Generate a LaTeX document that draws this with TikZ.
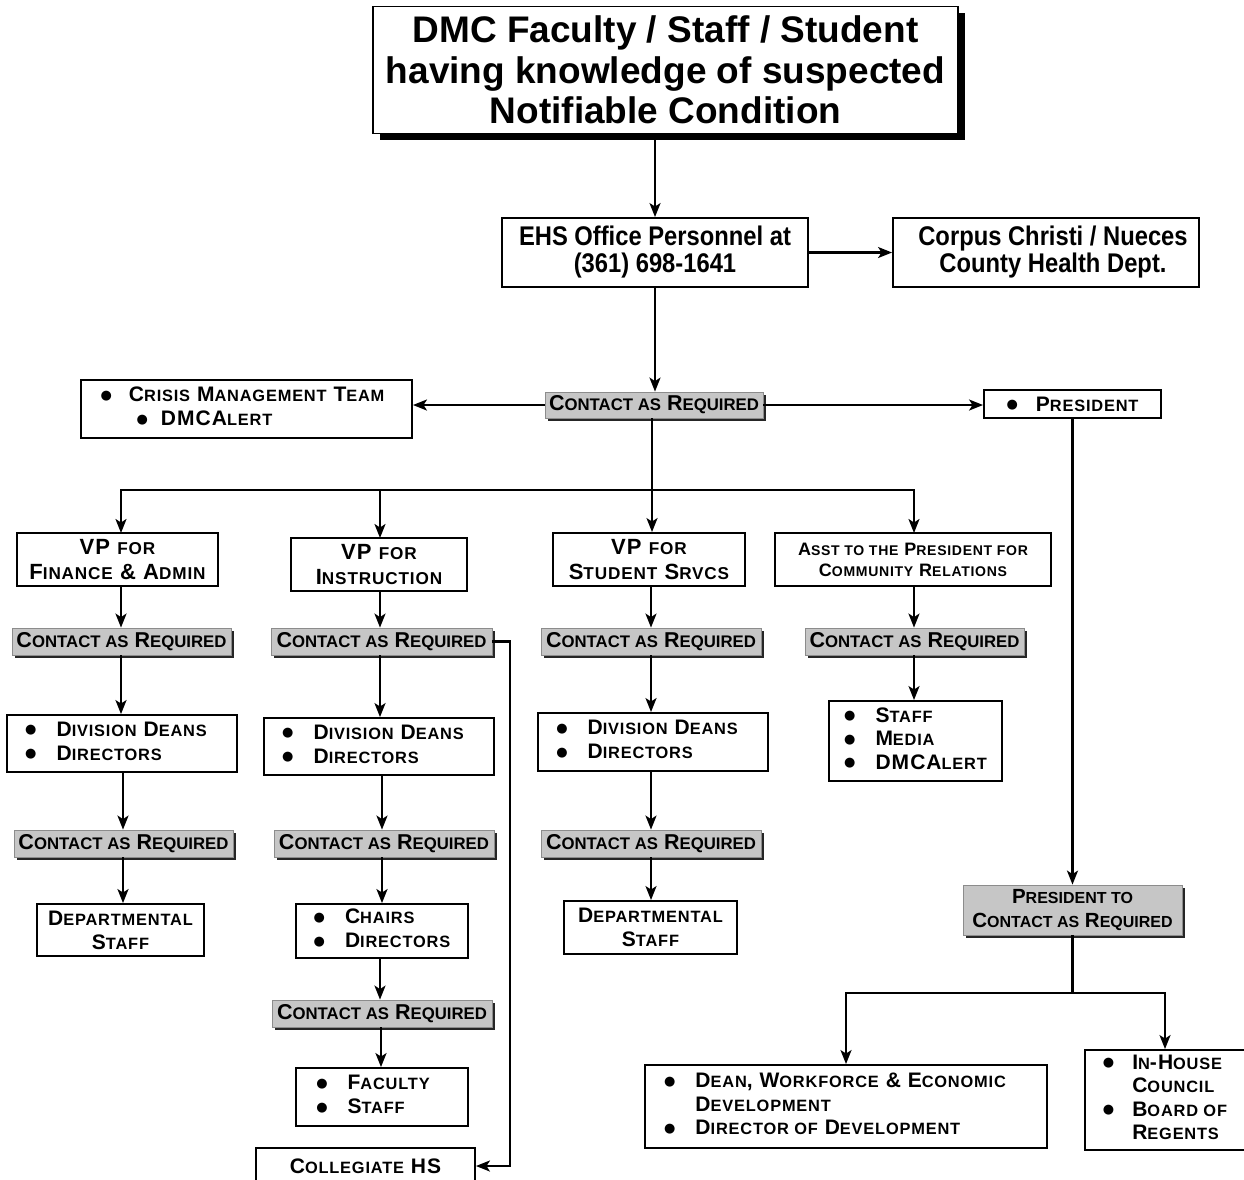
\documentclass[tikz,border=0pt]{standalone}
\usepackage{fontspec}
\setmainfont{Liberation Sans}
\newfontfamily\narrowf[FakeStretch=0.88]{Liberation Sans}
\newfontfamily\trk[LetterSpace=5]{Liberation Sans}
\newfontfamily\dejavu{DejaVu Sans}
\usetikzlibrary{arrows.meta,shadows}
\definecolor{cgray}{RGB}{198,198,198}
\newcommand\lc[1]{\scalebox{0.78}{#1}}
\newcommand\bul{\raisebox{2.5pt}{\dejavu\fontsize{13}{13}\selectfont ●}}
\newcommand\cartext{C\lc{ONTACT AS} R\lc{EQUIRED}}
\begin{document}
\begin{tikzpicture}[x=1pt,y=-1pt,
  box/.style={draw=black, line width=1.9pt, fill=white, inner sep=0pt, align=center,
    font=\trk\bfseries\fontsize{21}{24}\selectfont},
  car/.style={draw=black!45, line width=0.8pt, fill=cgray, inner sep=0pt,
    minimum width=219pt, minimum height=27pt, font=\bfseries\fontsize{21.5}{24}\selectfont,
    drop shadow={shadow xshift=3pt, shadow yshift=-3pt, fill=black!85, opacity=1}},
  arr/.style={line width=2.2pt, -{Stealth[length=14pt,width=11pt,inset=3.5pt]}},
  ln/.style={line width=2.2pt}]
\useasboundingbox (0,0) rectangle (1244,1179);
\fill[white] (0,0) rectangle (1244,1179);
\clip (0,0) rectangle (1244,1179);

% top
\node[box, minimum width=585pt, minimum height=127pt,
  font=\bfseries\fontsize{37}{40.5}\selectfont,
  drop shadow={shadow xshift=7pt, shadow yshift=-6pt, fill=black, opacity=1}]
  (top) at (665.5,70) {DMC Faculty / Staff / Student\\having knowledge of suspected\\Notifiable Condition};

\node[box, minimum width=306pt, minimum height=69pt, font=\narrowf\bfseries\fontsize{27}{27}\selectfont]
  (ehs) at (655,252.5) {EHS Office Personnel at\\(361) 698-1641};
\node[box, minimum width=306pt, minimum height=69pt, font=\narrowf\bfseries\fontsize{27}{27}\selectfont]
  (cchd) at (1046,252.5) {\hspace{14pt}Corpus Christi / Nueces\\\hspace{14pt}County Health Dept.};

\node[car, minimum width=218pt, minimum height=26pt] (car0) at (654,405) {\cartext};

\node[box, minimum width=331pt, minimum height=58pt] (cmt) at (246.5,409)
  {\begin{tabular}{@{}l@{}}\bul\hspace{17pt}C\lc{RISIS} M\lc{ANAGEMENT} T\lc{EAM}\\
   \hspace{36pt}\bul\hspace{13pt}DMCA\lc{LERT}\end{tabular}\hspace{8pt}};
\node[box, minimum width=177pt, minimum height=28pt] (pres) at (1072.5,404)
  {\bul\hspace{18pt}P\lc{RESIDENT}};

% VP row
\node[box, minimum width=201pt, minimum height=53pt, font=\trk\bfseries\fontsize{22}{25}\selectfont]
  (vp1) at (117.5,559.5) {VP \lc{FOR}\\F\lc{INANCE} \& A\lc{DMIN}};
\node[box, minimum width=176pt, minimum height=53pt, font=\trk\bfseries\fontsize{22}{25}\selectfont]
  (vp2) at (379,564.5) {VP \lc{FOR}\\I\lc{NSTRUCTION}};
\node[box, minimum width=192pt, minimum height=53pt, font=\trk\bfseries\fontsize{22}{25}\selectfont]
  (vp3) at (649,559.5) {VP \lc{FOR}\\S\lc{TUDENT} S\lc{RVCS}};
\node[box, minimum width=276pt, minimum height=53pt, font=\trk\bfseries\fontsize{18}{21}\selectfont]
  (asst) at (913,559.5) {A\lc{SST TO THE} P\lc{RESIDENT FOR}\\C\lc{OMMUNITY} R\lc{ELATIONS}};

% column 1
\node[car] (c1a) at (121.5,641.5) {\cartext};
\node[box, minimum width=230pt, minimum height=57pt] (div1) at (122,743.5)
  {\begin{tabular}{@{}l@{\hspace{20pt}}l@{}}\bul & D\lc{IVISION} D\lc{EANS}\\ \bul & D\lc{IRECTORS}\end{tabular}\hspace{12pt}};
\node[car] (c1b) at (123.5,843.5) {\cartext};
\node[box, minimum width=167pt, minimum height=52pt] (dep1) at (120.5,930)
  {D\lc{EPARTMENTAL}\\S\lc{TAFF}};

% column 2
\node[car, minimum width=221pt] (c2a) at (381.5,641.5) {\cartext};
\node[box, minimum width=230pt, minimum height=57pt] (div2) at (379,746.5)
  {\begin{tabular}{@{}l@{\hspace{20pt}}l@{}}\bul & D\lc{IVISION} D\lc{EANS}\\ \bul & D\lc{IRECTORS}\end{tabular}\hspace{12pt}};
\node[car, minimum width=220pt] (c2b) at (384,843.5) {\cartext};
\node[box, minimum width=172pt, minimum height=54pt] (chairs) at (382,931)
  {\begin{tabular}{@{}l@{\hspace{20pt}}l@{}}\bul & C\lc{HAIRS}\\ \bul & D\lc{IRECTORS}\end{tabular}};
\node[car, minimum width=220pt] (c2c) at (382,1013.5) {\cartext};
\node[box, minimum width=172pt, minimum height=58pt] (fac) at (382,1097)
  {\begin{tabular}{@{}l@{\hspace{20pt}}l@{}}\bul & F\lc{ACULTY}\\ \bul & S\lc{TAFF}\end{tabular}\hspace{18pt}};
\node[box, minimum width=219pt, minimum height=36pt] (chs) at (365.5,1166)
  {C\lc{OLLEGIATE} HS};
\coordinate (cr) at (510,641.5);

% column 3
\node[car, minimum width=220pt] (c3a) at (651,641.5) {\cartext};
\node[box, minimum width=230pt, minimum height=58pt] (div3) at (653,742)
  {\begin{tabular}{@{}l@{\hspace{20pt}}l@{}}\bul & D\lc{IVISION} D\lc{EANS}\\ \bul & D\lc{IRECTORS}\end{tabular}\hspace{12pt}};
\node[car, minimum width=220pt] (c3b) at (651,843.5) {\cartext};
\node[box, minimum width=173pt, minimum height=53pt] (dep3) at (650.5,927.5)
  {D\lc{EPARTMENTAL}\\S\lc{TAFF}};

% column 4
\node[car] (c4a) at (914.5,641.5) {\cartext};
\node[box, minimum width=173pt, minimum height=80pt, font=\trk\bfseries\fontsize{21}{23.5}\selectfont]
  (staff4) at (915.5,741)
  {\begin{tabular}{@{}l@{\hspace{20pt}}l@{}}\bul & S\lc{TAFF}\\ \bul & M\lc{EDIA}\\ \bul & DMCA\lc{LERT}\end{tabular}};

% president branch
\node[car, minimum width=219pt, minimum height=50pt, align=center,
  font=\bfseries\fontsize{20.5}{24}\selectfont] (carp) at (1072.5,910)
  {P\lc{RESIDENT TO}\\\cartext};
\node[box, minimum width=402pt, minimum height=83pt, font=\trk\bfseries\fontsize{21}{23.5}\selectfont]
  (dean) at (846,1106.5)
  {\begin{tabular}{@{}l@{\hspace{20pt}}l@{}}\bul & D\lc{EAN}, W\lc{ORKFORCE} \& E\lc{CONOMIC}\\
    & D\lc{EVELOPMENT}\\ \bul & D\lc{IRECTOR OF} D\lc{EVELOPMENT}\end{tabular}\hspace{22pt}};
\node[box, minimum width=160pt, minimum height=100pt, font=\trk\bfseries\fontsize{21}{23.5}\selectfont]
  (inh) at (1165,1100)
  {\begin{tabular}{@{}l@{\hspace{18pt}}l@{}}\bul & I\lc{N}-H\lc{OUSE}\\ & C\lc{OUNCIL}\\
    \bul & B\lc{OARD OF}\\ & R\lc{EGENTS}\end{tabular}};

\coordinate (br) at (652,490);
\coordinate (bp) at (1072.5,993);

% connectors
\draw[arr] (top.south -| ehs.north) -- (ehs.north);
\draw[arr] (ehs.east) -- (cchd.west);
\draw[arr] (ehs.south) -- (ehs.south |- car0.north);
\draw[arr] (car0.west) -- (car0.west -| cmt.east);
\draw[arr] (car0.east) -- (car0.east -| pres.west);
\draw[ln] (car0.south -| br) -- (br);
\draw[arr] (br) -| (121,533);
\draw[arr] (br) -| (380,538);
\draw[arr] (br) -- (br |- vp3.north);
\draw[arr] (br) -| (914,533);

\draw[arr] (vp1.south -| 121,0) -- (c1a.north -| 121,0);
\draw[arr] (c1a.south -| 121,0) -- (div1.north -| 121,0);
\draw[arr] (div1.south -| 123,0) -- (c1b.north -| 123,0);
\draw[arr] (c1b.south -| 123,0) -- (dep1.north -| 123,0);

\draw[arr] (vp2.south -| 380,0) -- (c2a.north -| 380,0);
\draw[arr] (c2a.south -| 380,0) -- (div2.north -| 380,0);
\draw[arr] (div2.south -| 382,0) -- (c2b.north -| 382,0);
\draw[arr] (c2b.south -| 382,0) -- (chairs.north -| 382,0);
\draw[arr] (chairs.south -| 380,0) -- (c2c.north -| 380,0);
\draw[arr] (c2c.south -| 381,0) -- (fac.north -| 381,0);
\draw[arr] (c2a.east) -- (c2a.east -| cr) |- (chs.east);

\draw[arr] (vp3.south -| 651,0) -- (c3a.north -| 651,0);
\draw[arr] (c3a.south -| 651,0) -- (div3.north -| 651,0);
\draw[arr] (div3.south -| 651,0) -- (c3b.north -| 651,0);
\draw[arr] (c3b.south -| 651,0) -- (dep3.north -| 651,0);

\draw[arr] (asst.south -| 914,0) -- (c4a.north -| 914,0);
\draw[arr] (c4a.south -| 914,0) -- (staff4.north -| 914,0);

\draw[arr] (pres.south) -- (carp.north);
\draw[ln] (carp.south) -- (bp);
\draw[arr] (bp) -| (dean.north);
\draw[arr] (bp) -| (inh.north);
\end{tikzpicture}
\end{document}
